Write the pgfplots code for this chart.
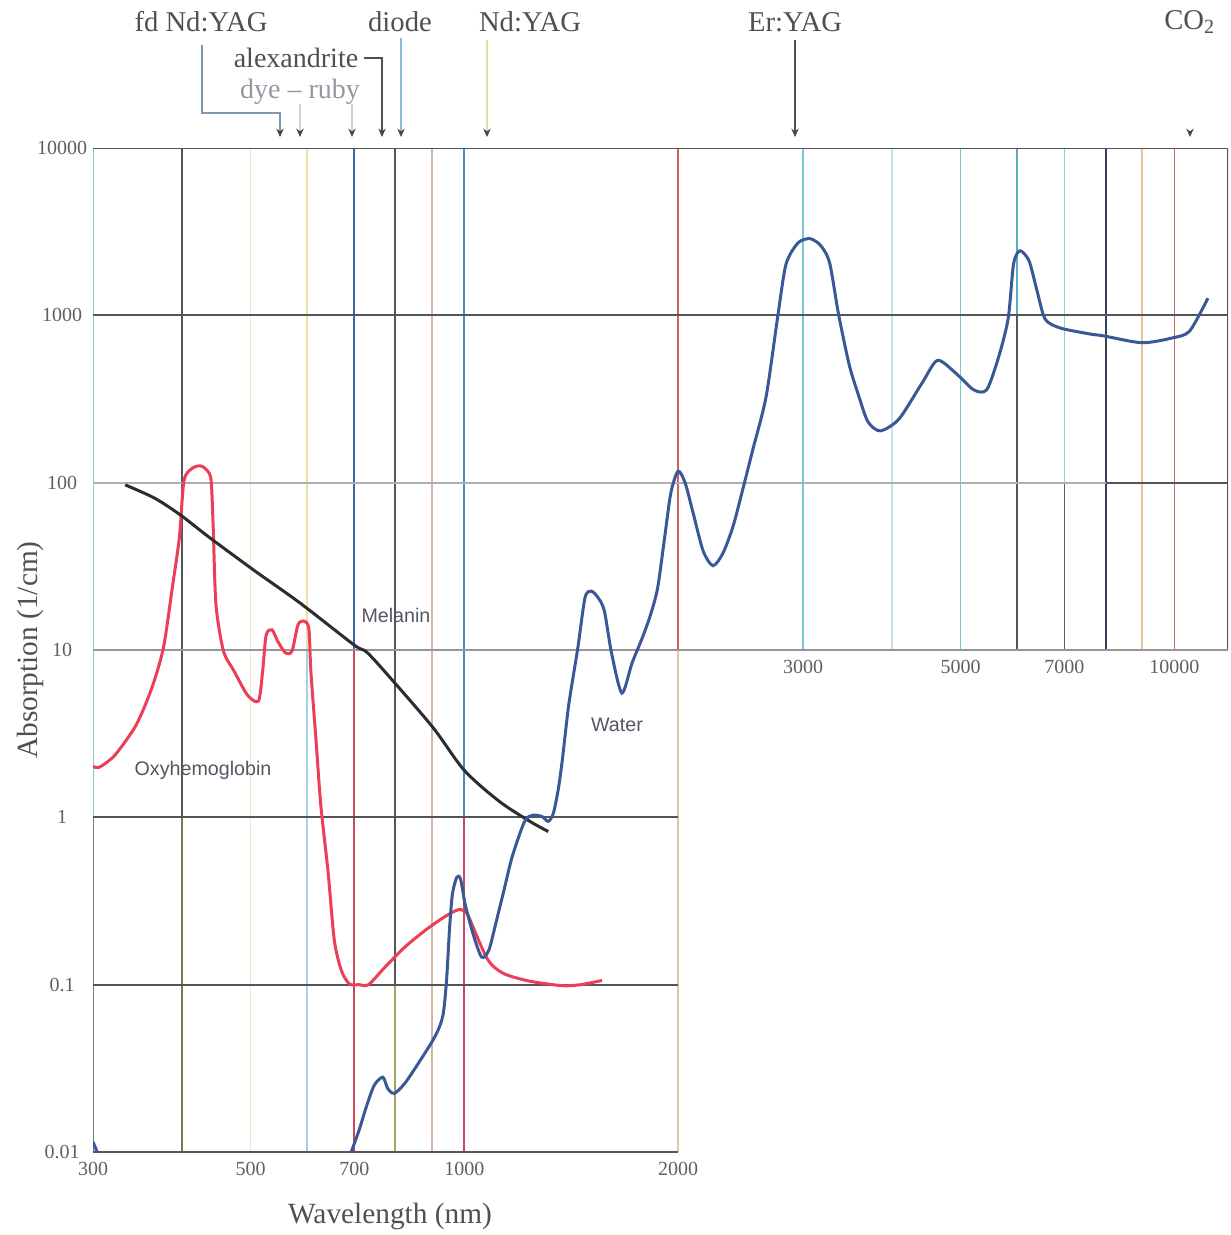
\documentclass[border=0pt]{standalone}
\usepackage{pgfplots}
\pgfplotsset{compat=1.18}
\usetikzlibrary{arrows.meta}
\usepackage{fontspec}
\setmainfont{Liberation Serif}
\newfontfamily\arial{Liberation Sans}

\definecolor{gdark}{RGB}{85,85,85}
\definecolor{glight}{RGB}{175,175,175}
\definecolor{gmid}{RGB}{150,150,150}
\definecolor{tealA}{RGB}{140,200,212}
\definecolor{grayB}{RGB}{115,125,125}
\definecolor{oliveB}{RGB}{120,120,80}
\definecolor{oliveC}{RGB}{165,165,95}
\definecolor{lyellow}{RGB}{238,232,195}
\definecolor{lyellow2}{RGB}{235,225,165}
\definecolor{lblue}{RGB}{165,210,228}
\definecolor{vblue}{RGB}{60,100,170}
\definecolor{vblue2}{RGB}{70,140,200}
\definecolor{vred}{RGB}{205,70,95}
\definecolor{ltan}{RGB}{215,180,160}
\definecolor{rtan}{RGB}{205,95,85}
\definecolor{ptan}{RGB}{220,200,175}
\definecolor{teal3}{RGB}{120,200,212}
\definecolor{cyan4}{RGB}{195,228,236}
\definecolor{teal6}{RGB}{90,170,200}
\definecolor{cyan7}{RGB}{140,205,222}
\definecolor{dblue7}{RGB}{80,100,130}
\definecolor{dblue8}{RGB}{55,65,95}
\definecolor{lorange}{RGB}{235,195,155}
\definecolor{rust}{RGB}{200,110,100}
\definecolor{hbred}{RGB}{236,62,86}
\definecolor{wblue}{RGB}{58,88,150}
\definecolor{melan}{RGB}{45,45,45}
\definecolor{tickgray}{RGB}{95,95,95}
\definecolor{labgray}{RGB}{80,80,80}
\definecolor{dyegray}{RGB}{150,150,160}
\definecolor{arrgray}{RGB}{70,70,70}
\definecolor{fdline}{RGB}{125,150,180}
\definecolor{diodeline}{RGB}{140,190,220}
\definecolor{ndline}{RGB}{228,222,160}
\definecolor{curvlab}{RGB}{85,85,100}

\begin{document}
\begin{tikzpicture}
\useasboundingbox (-27.9pt,-24.9pt) rectangle (341.4pt,345.6pt);

\begin{axis}[
  at={(0,0)}, anchor=south west,
  scale only axis, width=340.5pt, height=301.2pt,
  xmode=log, ymode=log,
  xmin=300, xmax=11900, ymin=0.01, ymax=10000,
  axis line style={draw=none},
  tick style={draw=none},
  major tick length=0pt, minor tick length=0pt,
  xminorticks=false, yminorticks=false,
  xtick={300,500,700,1000,2000},
  xticklabels={300,500,700,1000,2000},
  ytick={0.01,0.1,1,10,100,1000,10000},
  yticklabels={0.01,0.1,1,10,100,1000,10000},
  tick label style={font=\fontsize{6}{7}\selectfont, text=tickgray},
  yticklabel style={anchor=center, xshift=-9.3pt},
  xticklabel style={anchor=center, yshift=-5.2pt},
  clip mode=individual,
]
% ---- vertical grid lines, lower-left block ----
\addplot[tealA, line width=0.5pt] coordinates {(300,1) (300,10000)};
\addplot[grayB, line width=0.5pt] coordinates {(300,0.01) (300,1)};
\addplot[gdark, line width=0.6pt] coordinates {(400,1) (400,10000)};
\addplot[oliveB, line width=0.6pt] coordinates {(400,0.01) (400,1)};
\addplot[lyellow, line width=0.5pt] coordinates {(500,0.01) (500,10000)};
\addplot[lyellow2, line width=0.5pt] coordinates {(600,10) (600,10000)};
\addplot[lblue, line width=0.5pt] coordinates {(600,0.01) (600,10)};
\addplot[vblue, line width=0.6pt] coordinates {(700,10) (700,10000)};
\addplot[vred, line width=0.6pt] coordinates {(700,0.01) (700,10)};
\addplot[gdark, line width=0.6pt] coordinates {(800,0.1) (800,10000)};
\addplot[oliveC, line width=0.6pt] coordinates {(800,0.01) (800,0.1)};
\addplot[ltan, line width=0.5pt] coordinates {(900,0.01) (900,10000)};
\addplot[vblue2, line width=0.6pt] coordinates {(1000,1) (1000,10000)};
\addplot[vred, line width=0.6pt] coordinates {(1000,0.01) (1000,1)};
\addplot[rtan, line width=0.5pt] coordinates {(2000,10) (2000,10000)};
\addplot[ptan, line width=0.5pt] coordinates {(2000,0.01) (2000,10)};
% ---- vertical grid lines, upper-right block ----
\addplot[teal3, line width=0.5pt] coordinates {(3000,10) (3000,10000)};
\addplot[cyan4, line width=0.5pt] coordinates {(4000,10) (4000,10000)};
\addplot[teal3, line width=0.5pt] coordinates {(5000,10) (5000,10000)};
\addplot[teal6, line width=0.5pt] coordinates {(6000,1000) (6000,10000)};
\addplot[gdark, line width=0.6pt] coordinates {(6000,10) (6000,1000)};
\addplot[cyan7, line width=0.5pt] coordinates {(7000,100) (7000,10000)};
\addplot[dblue7, line width=0.5pt] coordinates {(7000,10) (7000,100)};
\addplot[dblue8, line width=0.6pt] coordinates {(8000,10) (8000,10000)};
\addplot[lorange, line width=0.5pt] coordinates {(9000,10) (9000,10000)};
\addplot[rust, line width=0.5pt] coordinates {(10000,10) (10000,10000)};
\addplot[gdark, line width=0.6pt] coordinates {(11900,10) (11900,10000)};
% ---- horizontal grid lines ----
\addplot[gdark, line width=0.6pt] coordinates {(300,10000) (11900,10000)};
\addplot[gdark, line width=0.6pt] coordinates {(300,1000) (11900,1000)};
\addplot[glight, line width=0.5pt] coordinates {(300,100) (11900,100)};
\addplot[gdark, line width=0.5pt] coordinates {(8000,100) (11900,100)};
\addplot[gmid, line width=0.5pt] coordinates {(300,10) (11900,10)};
\addplot[gdark, line width=0.6pt] coordinates {(300,1) (2000,1)};
\addplot[gdark, line width=0.6pt] coordinates {(300,0.1) (2000,0.1)};
\addplot[gdark, line width=0.6pt] coordinates {(300,0.01) (2000,0.01)};

% ---- Oxyhemoglobin ----
\addplot[hbred, line width=0.9pt, smooth, tension=0.45] coordinates {
(300,2.02) (306,1.99) (322,2.35) (345,3.56) (363,5.92) (377,10.3) (388,23.5)
(397,46.9) (403,103) (414,122) (425,126) (434,119) (440,103) (443,53.8)
(447,18.6) (458,9.86) (474,7.48) (495,5.38) (513,4.96) (520,7.48) (526,12.3)
(536,13.2) (546,11.3) (560,9.6) (572,9.86) (583,14.1) (594,14.9) (604,13.5)
(608,7.48) (618,2.97) (628,1.18) (643,0.471) (656,0.185) (671,0.122)
(689,0.101) (711,0.1) (733,0.1) (773,0.127) (825,0.168) (882,0.212)
(939,0.255) (982,0.281) (1007,0.269) (1023,0.234) (1050,0.18) (1075,0.145)
(1100,0.128) (1144,0.115) (1235,0.105) (1373,0.0986) (1459,0.1) (1563,0.106)
};
% ---- Melanin ----
\addplot[melan, line width=0.9pt, smooth, tension=0.5] coordinates {
(333,97) (366,81) (398,64.3) (438,46.9) (507,29.7) (587,19.1) (700,10.7)
(731,9.6) (803,6.17) (905,3.41) (1000,1.91) (1119,1.25) (1237,0.946) (1313,0.823)
};
% ---- Water ----
\addplot[wblue, line width=0.9pt] coordinates {(300,0.0115) (305,0.0097)};
\addplot[wblue, line width=0.9pt, smooth, tension=0.45] coordinates {
(693,0.01) (711,0.0135) (729,0.019) (747,0.0251) (768,0.028) (780,0.024)
(797,0.0224) (825,0.0258) (867,0.0353) (911,0.0497) (933,0.0653) (944,0.106)
(953,0.212) (962,0.346) (976,0.439) (988,0.427) (1003,0.301) (1030,0.198)
(1058,0.146) (1083,0.161) (1108,0.234) (1138,0.371) (1169,0.589) (1216,0.946)
(1249,1.03) (1287,1.01) (1313,0.946) (1335,1.06) (1357,1.49) (1375,2.25)
(1403,4.69) (1445,10.3) (1479,20.5) (1509,22.5) (1544,20.5) (1575,17.1)
(1612,9.6) (1667,5.53) (1723,8.36) (1781,11.8) (1829,16.2) (1872,23.5)
(1915,46.9) (1954,87) (2000,117) (2046,100) (2100,66) (2169,39.2) (2240,31.9)
(2314,38) (2391,55) (2470,93) (2551,160) (2661,327) (2766,1014)
(2839,2028) (2952,2714) (3070,2871) (3178,2606) (3270,2056) (3366,1014)
(3485,504) (3596,327) (3703,231) (3854,204) (4094,240) (4414,395) (4638,538)
(4920,452) (5216,359) (5441,359) (5654,561) (5834,959) (5937,2028) (6061,2430)
(6243,2115) (6408,1395) (6578,948) (6908,840) (7603,774) (7951,754) (9000,686)
(9934,733) (10507,805) (11148,1266)
};
% ---- upper-right tick labels ----
\node[font=\fontsize{6}{7}\selectfont, text=tickgray, yshift=-5.2pt] at (axis cs:3000,10) {3000};
\node[font=\fontsize{6}{7}\selectfont, text=tickgray, yshift=-5.2pt] at (axis cs:5000,10) {5000};
\node[font=\fontsize{6}{7}\selectfont, text=tickgray, yshift=-5.2pt] at (axis cs:7000,10) {7000};
\node[font=\fontsize{6}{7}\selectfont, text=tickgray, yshift=-5.2pt] at (axis cs:10000,10) {10000};
\end{axis}

\begin{scope}[x=0.3pt,y=-0.3pt,shift={(-27.9pt,345.6pt)}]
% axis titles
\node[rotate=90, font=\fontsize{8.8}{10}\selectfont, text=labgray] at (30,650) {Absorption (1/cm)};
\node[font=\fontsize{8.8}{10}\selectfont, text=labgray] at (390,1216) {Wavelength (nm)};
% curve labels
\node[font=\arial\fontsize{5.9}{7}\selectfont, text=curvlab] at (396,615) {Melanin};
\node[font=\arial\fontsize{5.9}{7}\selectfont, text=curvlab] at (203,770) {Oxyhemoglobin};
\node[font=\arial\fontsize{5.9}{7}\selectfont, text=curvlab] at (617,725) {Water};
% laser labels
\node[font=\fontsize{8.6}{10}\selectfont, text=labgray] at (201,22) {fd Nd:YAG};
\node[font=\fontsize{8.6}{10}\selectfont, text=labgray] at (400,22) {diode};
\node[font=\fontsize{8.6}{10}\selectfont, text=labgray] at (530,22) {Nd:YAG};
\node[font=\fontsize{8.6}{10}\selectfont, text=labgray] at (795,22) {Er:YAG};
\node[font=\fontsize{8.6}{10}\selectfont, text=labgray] at (1190,22) {CO\textsubscript{2}};
\node[font=\fontsize{8.4}{10}\selectfont, text=labgray] at (296,58) {alexandrite};
\node[font=\fontsize{8.4}{10}\selectfont, text=dyegray] at (300,92) {dye -- ruby};
% arrows
\tikzset{arr/.style={-{Stealth[length=2.5pt,width=2.2pt,color=arrgray]}, line width=0.45pt}}
\draw[arr, fdline] (202,45) -- (202,113) -- (280,113) -- (280,137);
\draw[arr, gray!35] (300,104) -- (300,137);
\draw[arr, gray!35] (352,104) -- (352,137);
\draw[arr, labgray] (364,58) -- (382,58) -- (382,137);
\draw[arr, diodeline] (401,38) -- (401,137);
\draw[arr, ndline] (487,40) -- (487,137);
\draw[arr, labgray] (795,40) -- (795,137);
\draw[arr, white] (1190,126) -- (1190,137);
\end{scope}
\end{tikzpicture}
\end{document}
